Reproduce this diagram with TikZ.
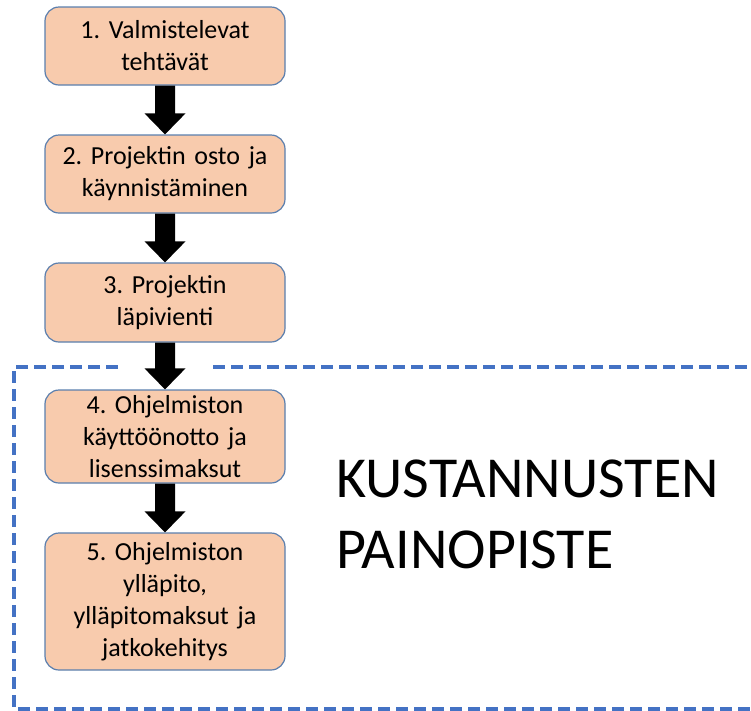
\documentclass[tikz,border=0pt]{standalone}
\usepackage{fontspec}
\setmainfont{Carlito}
\usetikzlibrary{calc}
\frenchspacing
\definecolor{peach}{HTML}{F8CBAD}
\definecolor{boxline}{HTML}{5B7FAE}
\definecolor{dashblue}{HTML}{4472C4}
\tikzset{
  stepbox/.style={draw=boxline, line width=1.2pt, fill=peach, rounded corners=14pt,
    minimum width=240pt, text width=230pt, align=center, inner sep=0pt,
    font=\fontsize{26}{32}\selectfont},
  blockarrow/.style={fill=black, draw=none},
  zone/.style={draw=dashblue, line width=3.5pt, dash pattern=on 12pt off 6pt},
}
\begin{document}
\begin{tikzpicture}[x=1pt, y=-1pt]
  \useasboundingbox (0,0) rectangle (751,710);
  \clip (0,0) rectangle (751,710);

  % dashed zone around the cost-heavy phases
  \coordinate (zc) at (14,367);
  \coordinate (zg1) at (118,367);
  \coordinate (zg2) at (213,367);
  \coordinate (zr) at (760,367);
  \coordinate (zb) at (14,709);
  \coordinate (zbr) at (760,709);
  \draw[zone] (zg1) -- (zc) -- (zb) -- (zbr);
  \draw[zone] (zg2) -- (zr);

  % phase boxes
  \node[stepbox, minimum height=78pt]  (s1) at (165,46)    {1. Valmistelevat\\tehtävät};
  \node[stepbox, minimum height=78pt]  (s2) at (165,174)   {2. Projektin osto ja\\käynnistäminen};
  \node[stepbox, minimum height=79pt]  (s3) at (165,302.5) {3. Projektin\\läpivienti};
  \node[stepbox, minimum height=93pt]  (s4) at (165,436.5) {4. Ohjelmiston\\käyttöönotto ja\\lisenssimaksut};
  \node[stepbox, minimum height=137pt] (s5) at (165,601.5) {5. Ohjelmiston\\ylläpito,\\ylläpitomaksut ja\\jatkokehitys};

  % block arrows between consecutive boxes (canvas coordinates, y grows upwards)
  \foreach \a/\b in {s1/s2, s2/s3, s3/s4, s4/s5}{
    \path let \p1=(\a.south), \p2=(\b.north) in
      [blockarrow] (\x1-10pt,\y1) -- (\x1+10pt,\y1) -- (\x1+10pt,\y2+21pt)
      -- (\x1+20.5pt,\y2+21pt) -- (\x2,\y2) -- (\x1-20.5pt,\y2+21pt)
      -- (\x1-10pt,\y2+21pt) -- cycle;
  }

  % caption inside the zone (base anchor sits on the last line)
  \node[anchor=base west, align=left, inner sep=0pt,
        font=\fontsize{58}{71}\selectfont] (cap) at (336,568)
        {KUSTANNUSTEN\\PAINOPISTE};
\end{tikzpicture}
\end{document}
